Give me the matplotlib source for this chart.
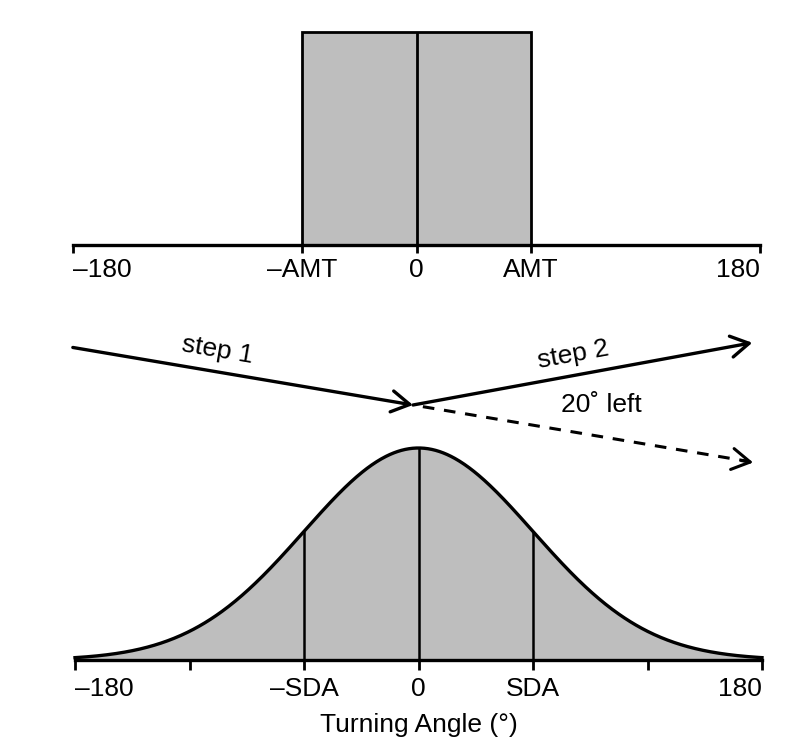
import numpy as np
import matplotlib.pyplot as plt

plt.rcParams['font.family'] = ['Liberation Sans', 'DejaVu Sans']

# ------------------------------------------------------------
# DATA
# ------------------------------------------------------------
AMT = 60          # half-width of uniform turning distribution (deg)
SDA = 60          # std. dev. of normal turning distribution (deg)
TURN = 20         # example turn, degrees left

top_ticks = [-180, -AMT, 0, AMT, 180]
top_labels = ['\u2013180', '\u2013AMT', '0', 'AMT', '180']

bot_ticks = [-180, -120, -SDA, 0, SDA, 120, 180]
bot_labels = ['\u2013180', '', '\u2013SDA', '0', 'SDA', '', '180']

# walk geometry (pixels, y downwards)
turn_point = (413, 405)
heading1 = 9.6      # degrees below horizontal
step_len = 345

W, H = 809, 745
GRAY = '#bebebe'
FS = 19

fig = plt.figure(figsize=(W / 100, H / 100), dpi=100)
fig.patch.set_facecolor('white')


def style_axis(ax, ticks, labels, tick_len, pad):
    for s in ['top', 'right', 'left']:
        ax.spines[s].set_visible(False)
    ax.spines['bottom'].set_linewidth(2.4)
    ax.set_yticks([])
    ax.set_xlim(-180, 180)
    ax.set_xticks(ticks)
    ax.set_xticklabels(labels, fontsize=FS)
    ax.tick_params(axis='x', length=tick_len, width=2, pad=pad)
    lbls = ax.get_xticklabels()
    lbls[0].set_ha('left')
    lbls[-1].set_ha('right')
    ax.patch.set_alpha(0)


# ------------------------------------------------------------
# Top panel: uniform distribution
# ------------------------------------------------------------
ax1 = fig.add_axes([73 / W, 1 - 245 / H, 687 / W, (245 - 32) / H])
ax1.bar(0, 1, width=2 * AMT, color=GRAY, edgecolor='black', linewidth=2, clip_on=False)
ax1.vlines(0, 0, 1, color='black', linewidth=2, clip_on=False)
ax1.set_ylim(0, 1)
style_axis(ax1, top_ticks, top_labels, 6, 3)

# ------------------------------------------------------------
# Bottom panel: normal distribution
# ------------------------------------------------------------
ax2 = fig.add_axes([75 / W, 1 - 660 / H, 687 / W, (660 - 448) / H * 1.05])
x = np.linspace(-180, 180, 721)
y = np.exp(-0.5 * (x / SDA) ** 2)
ax2.fill_between(x, 0, y, color=GRAY, linewidth=0)
ax2.plot(x, y, color='black', linewidth=2.4, clip_on=False)
for v in [-SDA, 0, SDA]:
    ax2.vlines(v, 0, np.exp(-0.5 * (v / SDA) ** 2), color='black', linewidth=1.8)
ax2.set_ylim(0, 1.05)
style_axis(ax2, bot_ticks, bot_labels, 7, 5)
ax2.set_xlabel('Turning Angle (\u00b0)', fontsize=FS, labelpad=9)

# ------------------------------------------------------------
# Middle: the two steps of the walk
# ------------------------------------------------------------
ov = fig.add_axes([0, 0, 1, 1])
ov.set_xlim(0, W)
ov.set_ylim(H, 0)
ov.axis('off')
ov.patch.set_alpha(0)

tx, ty = turn_point
h1 = np.radians(heading1)
h2 = np.radians(heading1 - TURN)
start1 = (tx - step_len * np.cos(h1), ty - step_len * np.sin(h1))
end2 = (tx + step_len * np.cos(h2), ty + step_len * np.sin(h2))
end_straight = (tx + step_len * np.cos(h1), ty + step_len * np.sin(h1))

head = '->,head_length=0.65,head_width=0.38'
ov.annotate('', xy=turn_point, xytext=start1,
            arrowprops=dict(arrowstyle=head, lw=2.4, color='black',
                            mutation_scale=20, shrinkA=0, shrinkB=0))
ov.annotate('', xy=end2, xytext=turn_point,
            arrowprops=dict(arrowstyle=head, lw=2.4, color='black',
                            mutation_scale=20, shrinkA=0, shrinkB=0))
# dashed "no-turn" continuation
gap = 10
ds = (tx + gap * np.cos(h1), ty + gap * np.sin(h1))
ov.plot([ds[0], end_straight[0] - 4], [ds[1], end_straight[1] - 1],
        color='black', lw=2.2, linestyle=(0, (3.8, 3.2)))
pre = (end_straight[0] - 12 * np.cos(h1), end_straight[1] - 12 * np.sin(h1))
ov.annotate('', xy=end_straight, xytext=pre,
            arrowprops=dict(arrowstyle=head, lw=2.2, color='black',
                            mutation_scale=20, shrinkA=0, shrinkB=0))

ov.text(217, 350, 'step 1', fontsize=FS, rotation=-heading1,
        ha='center', va='center', rotation_mode='anchor')
ov.text(573, 355, 'step 2', fontsize=FS, rotation=TURN - heading1,
        ha='center', va='center', rotation_mode='anchor')
ov.text(601, 405, '20\u02da left', fontsize=FS, ha='center', va='center')

fig.savefig('out.png', dpi=100, facecolor='white')
